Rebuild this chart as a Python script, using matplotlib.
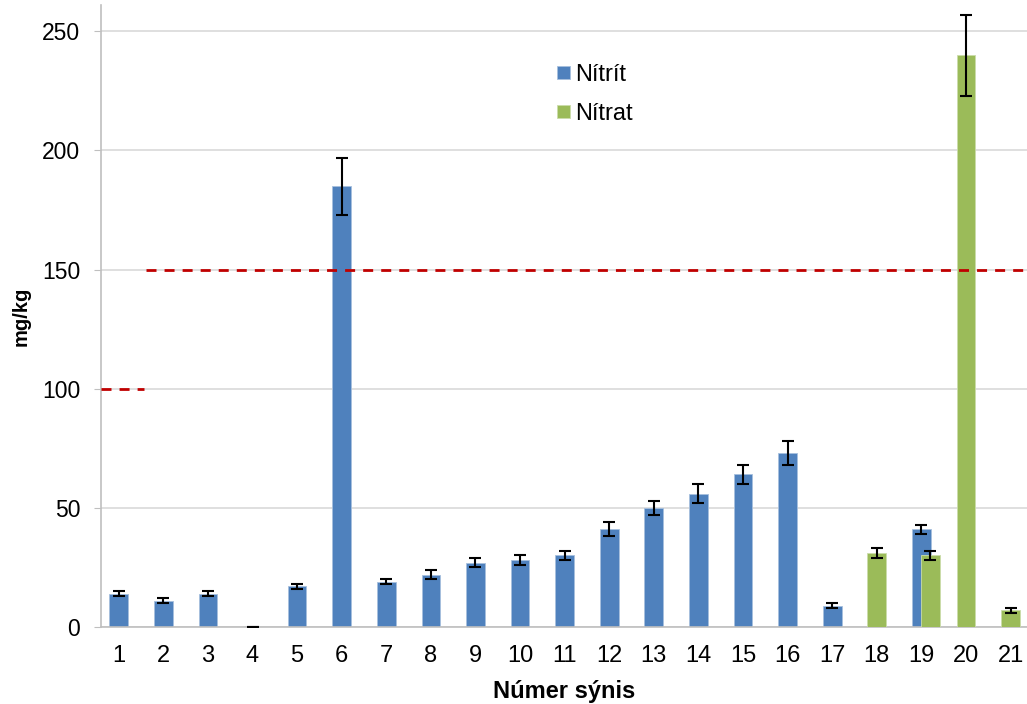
import matplotlib.pyplot as plt
import numpy as np

plt.rcParams['font.family'] = ['Liberation Sans', 'DejaVu Sans']

samples = list(range(1, 22))
nitrit = [14, 11, 14, 0, 17, 185, 19, 22, 27, 28, 30, 41, 50, 56, 64, 73, 9, np.nan, 41, np.nan, np.nan]
nitrit_err = [1, 1, 1, 0, 1, 12, 1, 2, 2, 2, 2, 3, 3, 4, 4, 5, 1, np.nan, 2, np.nan, np.nan]
nitrat = [np.nan] * 17 + [31, 30, 240, 7]
nitrat_err = [np.nan] * 17 + [2, 2, 17, 1]
# shift of the green bar inside a category (only sample 19 holds both)
nitrat_shift = [0] * 18 + [0.2, 0, 0]
limit_low = 100
limit_high = 150

blue = '#4F81BD'
green = '#9BBB59'

fig = plt.figure(figsize=(10.27, 7.04), dpi=100)
ax = fig.add_axes([0.0983, 0.1094, 0.9017, 0.8835])

x = np.array(samples, dtype=float)
xg = x + np.array(nitrat_shift)
w = 0.42

ax.bar(x, nitrit, w, color=blue, edgecolor='#A7C0DE', linewidth=0.6, label='Nítrít', zorder=2)
ax.bar(xg, nitrat, w, color=green, edgecolor='#CBDCAA', linewidth=0.6, label='Nítrat', zorder=3)
ax.errorbar(x, nitrit, yerr=nitrit_err, fmt='none', ecolor='black', elinewidth=1.5,
            capsize=4.3, capthick=1.5, zorder=4)
ax.errorbar(xg, nitrat, yerr=nitrat_err, fmt='none', ecolor='black', elinewidth=1.5,
            capsize=4.3, capthick=1.5, zorder=4)

ax.plot([0.6, 1.56], [limit_low, limit_low], color='#C00000', lw=2, dashes=(3.6, 2.9), zorder=5)
ax.plot([1.6, 21.4], [limit_high, limit_high], color='#C00000', lw=2, dashes=(3.6, 2.9), zorder=5)

ax.set_xlim(0.6, 21.37)
ax.set_ylim(0, 261)
ax.set_yticks(range(0, 251, 50))
ax.set_xticks(samples)
ax.yaxis.grid(True, color='#D9D9D9', lw=1.2)
ax.set_axisbelow(True)
for s in ['top', 'right']:
    ax.spines[s].set_visible(False)
for s in ['left', 'bottom']:
    ax.spines[s].set_color('#BFBFBF')
    ax.spines[s].set_linewidth(1.2)
ax.tick_params(axis='y', length=5, color='#BFBFBF', labelsize=16.5, pad=10)
ax.tick_params(axis='x', length=0, labelsize=17, pad=13)
ax.set_xlabel('Númer sýnis', fontsize=17, fontweight='bold', labelpad=9)
ax.set_ylabel('mg/kg', fontsize=14.5, fontweight='bold', labelpad=8)

ax.legend(loc='upper left', bbox_to_anchor=(557 / 1027, 1 - 64 / 704),
          bbox_transform=fig.transFigure, frameon=False, fontsize=17,
          borderpad=0, borderaxespad=0,
          handlelength=0.55, handleheight=0.5, handletextpad=0.2, labelspacing=0.72)

fig.savefig('out.png', dpi=100)
